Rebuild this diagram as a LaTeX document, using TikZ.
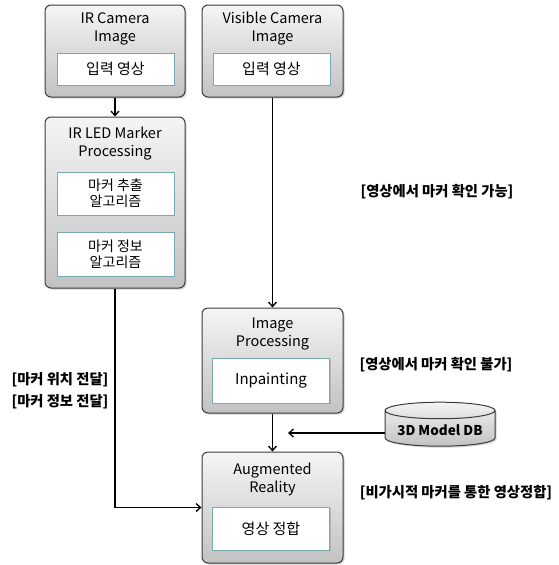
\documentclass[tikz,border=0pt]{standalone}
\usepackage{fontspec}
\setmainfont{Noto Sans CJK KR}
\usetikzlibrary{arrows.meta}
\usetikzlibrary{shadows}
\usetikzlibrary{shapes.geometric}
\definecolor{innerline}{RGB}{120,168,176}
\definecolor{boxline}{RGB}{60,60,60}

\begin{document}
\begin{tikzpicture}[x=1pt, y=-1pt,
    outerbox/.style={draw=boxline, line width=1pt, rounded corners=6pt, top color=gray!8, bottom color=gray!48,
      drop shadow={shadow xshift=1.5pt, shadow yshift=-1.5pt, opacity=0.35}},
    innerbox/.style={draw=innerline, line width=0.9pt, fill=white, minimum width=117pt, align=center,
      font=\fontsize{15}{16}\selectfont, drop shadow={shadow xshift=1pt, shadow yshift=-1.2pt, opacity=0.35}},
    title/.style={align=center, font=\fontsize{14.5}{18}\selectfont},
    note/.style={font=\bfseries\fontsize{14.3}{16}\selectfont},
    arr/.style={line width=1.3pt, -{Straight Barb[length=4.5pt, width=8pt]}}]
    \useasboundingbox (0,0) rectangle (558,565);

    % upper row
    \node[outerbox, minimum width=140pt, minimum height=92pt] (ircam) at (115,51) {};
    \node[title] (ircamt) at (115,29) {IR Camera\\Image};
    \node[innerbox, minimum height=32pt] (ircamin) at (115.5,69) {입력 영상};

    \node[outerbox, minimum width=141pt, minimum height=92pt] (viscam) at (272.5,51) {};
    \node[title] (viscamt) at (272.5,29) {Visible Camera\\Image};
    \node[innerbox, minimum height=32pt] (viscamin) at (271.5,69) {입력 영상};

    % marker processing
    \node[outerbox, minimum width=140pt, minimum height=171pt] (irled) at (115,202.5) {};
    \node[title] (irledt) at (115,144) {IR LED Marker\\Processing};
    \node[innerbox, minimum height=43pt, font=\fontsize{14}{16}\selectfont] (extract) at (115.5,193.5) {마커 추출\\알고리즘};
    \node[innerbox, minimum height=44pt, font=\fontsize{14}{16}\selectfont] (info) at (115.5,254) {마커 정보\\알고리즘};

    % image processing
    \node[outerbox, minimum width=141pt, minimum height=105pt] (improc) at (272.5,360.5) {};
    \node[title] (improct) at (272.5,334) {Image\\Processing};
    \node[innerbox, minimum height=45pt] (inpaint) at (271,380.5) {Inpainting};

    % augmented reality
    \node[outerbox, minimum width=141pt, minimum height=111pt] (ar) at (272.5,507.5) {};
    \node[title] (art) at (272.5,479) {Augmented\\Reality};
    \node[innerbox, minimum height=43pt] (match) at (271,528.5) {영상 정합};

    % model database
    \node[cylinder, shape border rotate=90, aspect=0.18, draw=boxline, line width=1pt,
      top color=gray!10, bottom color=gray!48, minimum width=110pt, minimum height=44pt,
      font=\bfseries\fontsize{13.5}{15}\selectfont,
      drop shadow={shadow xshift=1.5pt, shadow yshift=-1.5pt, opacity=0.35}] (db) at (440,430) {3D Model DB};
    \coordinate (dbend) at (288,433);

    % notes
    \node[note] (seen) at (437,192) {[영상에서 마커 확인 가능]};
    \node[note] (unseen) at (436,365) {[영상에서 마커 확인 불가]};
    \node[note] (reg) at (456,493) {[비가시적 마커를 통한 영상정합]};
    \node[note] (pos) at (60,380) {[마커 위치 전달]};
    \node[note] (mkinfo) at (60,402) {[마커 정보 전달]};

    \draw[arr] (ircam) -- (irled);
    \draw[arr] (viscam) -- (improc);
    \draw[arr] (improc) -- (ar);
    \draw[arr] (db.west |- dbend) -- (dbend);
    \draw[arr] (irled.south) |- (ar.west);
\end{tikzpicture}
\end{document}
